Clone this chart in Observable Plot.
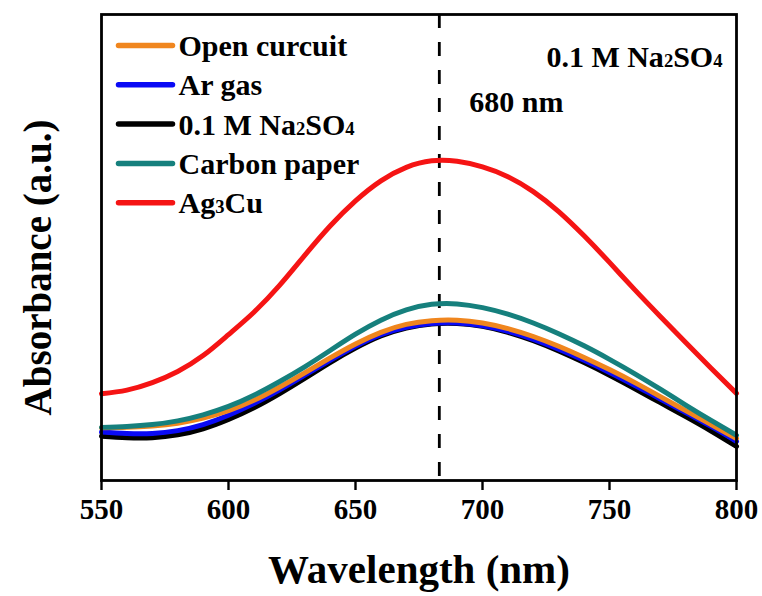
<!DOCTYPE html>
<html>
<head>
<meta charset="utf-8">
<script src="https://cdn.jsdelivr.net/npm/d3@7"></script>
<script src="https://cdn.jsdelivr.net/npm/@observablehq/plot@0.6"></script>
<style>
  html, body { margin: 0; padding: 0; background: #fff; }
  #chart svg { display: block; }
</style>
</head>
<body>
<div id="chart"></div>
<script>
// ---- data (arbitrary absorbance units) ----
const wavelengths = [550,560,570,580,590,600,610,620,630,640,650,660,670,680,690,700,710,720,730,740,750,760,770,780,790,800];
const openCircuit = [0.113,0.114,0.117,0.123,0.134,0.150,0.172,0.200,0.231,0.263,0.293,0.318,0.335,0.343,0.344,0.338,0.326,0.309,0.288,0.264,0.238,0.210,0.180,0.150,0.120,0.090];
const arGas       = [0.104,0.101,0.101,0.107,0.120,0.140,0.165,0.194,0.226,0.258,0.288,0.313,0.329,0.337,0.338,0.332,0.320,0.303,0.282,0.258,0.232,0.204,0.175,0.146,0.116,0.084];
const naSO4       = [0.095,0.092,0.092,0.098,0.111,0.131,0.156,0.186,0.219,0.253,0.284,0.310,0.327,0.336,0.337,0.331,0.318,0.300,0.278,0.253,0.226,0.197,0.167,0.137,0.106,0.073];
const carbonPaper = [0.114,0.116,0.120,0.128,0.141,0.159,0.183,0.212,0.244,0.279,0.314,0.344,0.366,0.378,0.379,0.371,0.357,0.338,0.315,0.289,0.260,0.229,0.196,0.162,0.129,0.097];
const ag3cu       = [0.186,0.194,0.210,0.234,0.268,0.313,0.361,0.418,0.483,0.546,0.600,0.643,0.672,0.686,0.685,0.673,0.652,0.620,0.577,0.525,0.468,0.409,0.352,0.296,0.241,0.187];

const seriesNames  = ["Open curcuit", "Ar gas", "0.1 M Na₂SO₄", "Carbon paper", "Ag₃Cu"];
const seriesValues = [openCircuit, arGas, naSO4, carbonPaper, ag3cu];
const seriesColors = ["#f0861e", "#0a0af5", "#000000", "#16807d", "#f51414"];
const drawOrder    = [2, 1, 0, 3, 4];   // black underneath, red on top
const xTicks = [550, 600, 650, 700, 750, 800];
const peakLine = [683];
const annotationTitle = "0.1 M Na₂SO₄";
const annotationPeak = "680 nm";
const xLabel = "Wavelength (nm)";
const yLabel = "Absorbance (a.u.)";

// ---- layout ----
const W = 762, H = 596;
const mL = 101, mR = 26, mT = 14, mB = 116;
const plotW = W - mL - mR, plotH = H - mT - mB;
const FONT = "'Liberation Serif', 'Times New Roman', serif";
const xDomain = [550, 800], yDomain = [0, 1];

const rows = [];
drawOrder.forEach(si => {
  wavelengths.forEach((w, i) => rows.push({series: seriesNames[si], idx: si, wl: w, a: seriesValues[si][i]}));
});

// legend rows positioned in frame-relative layout (converted to data space)
const pxToX = px => xDomain[0] + (px - mL) / plotW * (xDomain[1] - xDomain[0]);
const pxToY = py => yDomain[0] + (mT + plotH - py) / plotH * (yDomain[1] - yDomain[0]);
const legendRowY = i => 45 + i * 39.3;
const legend = seriesNames.map((name, i) => ({
  name, color: seriesColors[i],
  x1: pxToX(118), x2: pxToX(172), y: pxToY(legendRowY(i)), tx: pxToX(178)
}));

const chart = Plot.plot({
  width: W, height: H,
  marginLeft: mL, marginRight: mR, marginTop: mT, marginBottom: mB,
  style: {fontFamily: FONT, background: "#fff", color: "#000"},
  x: {domain: xDomain, ticks: xTicks},
  y: {domain: yDomain},
  marks: [
    Plot.ruleX(peakLine, {stroke: "#000", strokeWidth: 2.8, strokeDasharray: "14,14"}),
    Plot.line(rows, {x: "wl", y: "a", z: "series", stroke: d => seriesColors[d.idx], strokeWidth: 5, curve: "natural"}),
    Plot.axisX({ticks: xTicks, tickSize: 10, tickPadding: 8, tickFormat: d => String(d), fontSize: 29, fontWeight: "bold", label: null, strokeWidth: 2.4}),
    Plot.axisY({ticks: [], label: null}),
    Plot.frame({stroke: "#000", strokeWidth: 2.8}),
    // legend
    Plot.link(legend, {x1: "x1", x2: "x2", y1: "y", y2: "y", stroke: d => d.color, strokeWidth: 5.5, strokeLinecap: "round"}),
    Plot.text(legend, {x: "tx", y: "y", text: "name", textAnchor: "start", fontSize: 30, fontWeight: "bold", fill: "#000", dy: 1}),
    // annotations
    Plot.text([annotationTitle], {frameAnchor: "top-right", text: d => d, dx: -14, dy: 31, fontSize: 30, fontWeight: "bold", fill: "#000"}),
    Plot.text(peakLine, {x: d => d, frameAnchor: "top", text: () => annotationPeak, textAnchor: "start", dx: 30, dy: 76, fontSize: 30, fontWeight: "bold", fill: "#000"}),
    // axis titles
    Plot.text([xLabel], {frameAnchor: "bottom", text: d => d, dy: 102, fontSize: 41, fontWeight: "bold", fill: "#000"}),
    Plot.text([yLabel], {frameAnchor: "left", text: d => d, rotate: -90, textAnchor: "middle", dx: -63, dy: 20, fontSize: 39, fontWeight: "bold", fill: "#000"})
  ]
});

// render unicode subscripts as smaller real digits
const subMap = {"₀":"0","₁":"1","₂":"2","₃":"3","₄":"4","₅":"5","₆":"6","₇":"7","₈":"8","₉":"9"};
chart.querySelectorAll("text").forEach(t => {
  const targets = t.querySelectorAll("tspan").length ? Array.from(t.querySelectorAll("tspan")) : [t];
  targets.forEach(el => {
    const s = el.textContent;
    if (!/[₀-₉]/.test(s)) return;
    el.textContent = "";
    const ns = "http://www.w3.org/2000/svg";
    let buf = "";
    const flush = () => { if (buf) { const ts = document.createElementNS(ns, "tspan"); ts.textContent = buf; el.appendChild(ts); buf = ""; } };
    for (const ch of s) {
      if (subMap[ch]) {
        flush();
        const ts = document.createElementNS(ns, "tspan");
        ts.setAttribute("font-size", "0.62em");
        ts.textContent = subMap[ch];
        el.appendChild(ts);
      } else buf += ch;
    }
    flush();
  });
});

document.getElementById("chart").appendChild(chart);
</script>
</body>
</html>
